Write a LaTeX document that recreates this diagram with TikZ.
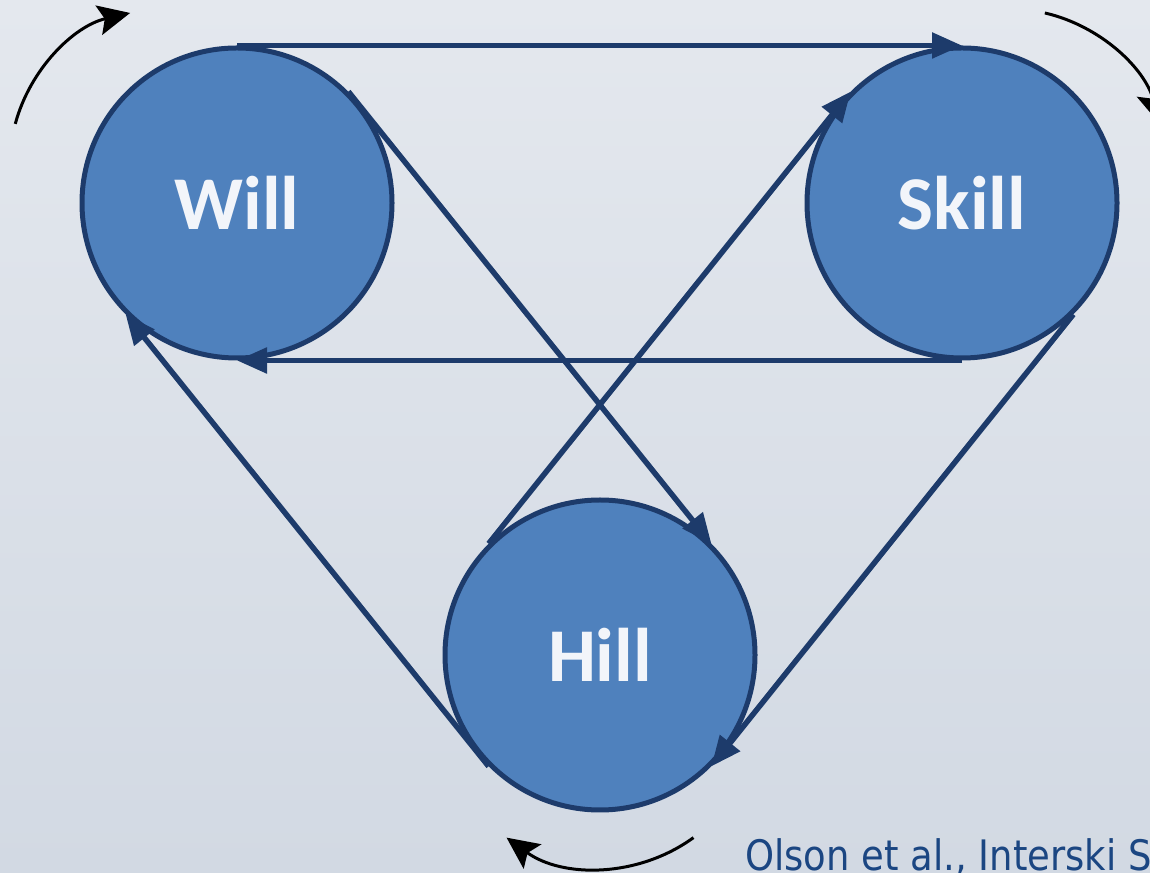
\documentclass[tikz,border=0pt]{standalone}
\usepackage{fontspec}
\setmainfont{Carlito}
\newfontfamily\citefont{DejaVu Sans}[FakeStretch=0.88]
\usetikzlibrary{arrows.meta}
\definecolor{bgtop}{HTML}{E4E8EE}
\definecolor{bgbot}{HTML}{D2D9E3}
\definecolor{ballfill}{HTML}{4F81BD}
\definecolor{navy}{HTML}{1D3B6B}
\definecolor{citeblue}{HTML}{1B4682}
\definecolor{labelwhite}{HTML}{F2F5FA}
\tikzset{
  ball/.style={circle, draw=navy, line width=5pt, fill=ballfill, minimum size=310pt, inner sep=0pt,
    text=labelwhite, font=\fontsize{76}{80}\selectfont\bfseries},
  link/.style={draw=navy, line width=5.5pt, -{Triangle[length=30pt,width=25pt]}},
  turn/.style={draw=black, line width=3pt, -{Stealth[length=32pt,width=30pt,inset=6pt]}}
}
\begin{document}
\begin{tikzpicture}[x=1pt,y=1pt]
\useasboundingbox (0,0) rectangle (1150,872);
\path[clip] (0,0) rectangle (1150,872);
\shade[top color=bgtop, bottom color=bgbot] (0,0) rectangle (1150,872);

\node[ball] (will) at (237,669) {Will};
\node[ball] (skill) at (962,669) {Skill};
\node[ball] (hill) at (600,217) {Hill};

\draw[link] (will.90) -- (skill.90);
\draw[link] (skill.-90) -- (will.-90);
\draw[link] (will.45) -- (hill.45);
\draw[link] (hill.135) -- (skill.135);
\draw[link] (skill.-45) -- (hill.-45);
\draw[link] (hill.-135) -- (will.-135);

\coordinate (wc) at (165,708);
\coordinate (sc) at (1010,708);
\coordinate (hc) at (600,163);
\draw[turn] (wc) ++(165:155) arc[start angle=165, end angle=103, radius=155];
\draw[turn] (sc) ++(77:155) arc[start angle=77, end angle=15, radius=155];
\draw[turn] (hc) ++(-54:159) arc[start angle=-54, end angle=-126, radius=159];

\node[anchor=base west, inner sep=0pt, text=citeblue, font=\citefont\fontsize{42}{44}\selectfont] (cite) at (745,2) {Olson et al., Interski S};
\end{tikzpicture}
\end{document}
